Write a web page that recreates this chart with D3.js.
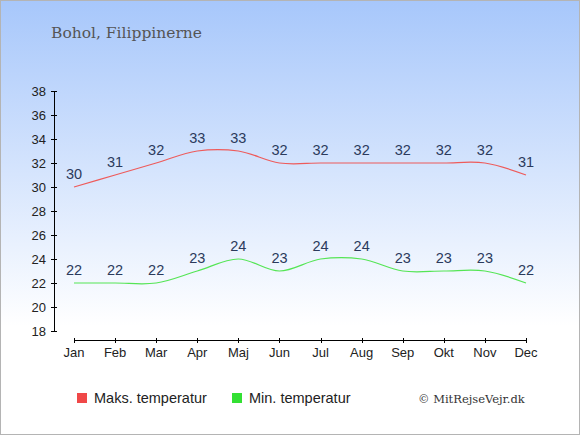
<!DOCTYPE html>
<html>
<head>
<meta charset="utf-8">
<script src="https://cdn.jsdelivr.net/npm/d3@7"></script>
<style>
  body { margin: 0; }
  svg { display: block; }
</style>
</head>
<body>
<div id="chart"></div>
<script>
var months = ["Jan", "Feb", "Mar", "Apr", "Maj", "Jun", "Jul", "Aug", "Sep", "Okt", "Nov", "Dec"];
var maxTemp = [30, 31, 32, 33, 33, 32, 32, 32, 32, 32, 32, 31];
var minTemp = [22, 22, 22, 23, 24, 23, 24, 24, 23, 23, 23, 22];
var yTicks = [18, 20, 22, 24, 26, 28, 30, 32, 34, 36, 38];

var width = 580, height = 435;

var svg = d3.select("#chart").append("svg")
    .attr("width", width)
    .attr("height", height);

var grad = svg.append("defs").append("linearGradient")
    .attr("id", "bg")
    .attr("x1", 0).attr("y1", 0).attr("x2", 0).attr("y2", 1);
grad.append("stop").attr("offset", "0%").attr("stop-color", "#a7c7fb");
grad.append("stop").attr("offset", "75%").attr("stop-color", "#ffffff");
grad.append("stop").attr("offset", "100%").attr("stop-color", "#ffffff");

svg.append("rect")
    .attr("x", 0.5).attr("y", 0.5)
    .attr("width", width - 1).attr("height", height - 1)
    .attr("fill", "url(#bg)")
    .attr("stroke", "#b4b4b4");

svg.append("text")
    .attr("x", 51).attr("y", 38)
    .attr("font-family", "'DejaVu Serif', serif")
    .attr("font-size", 15.5)
    .attr("fill", "#555")
    .text("Bohol, Filippinerne");

var x = d3.scalePoint().domain(months).range([74, 526]);
var y = d3.scaleLinear().domain([18, 38]).range([331, 91]);

// y axis
var yAxis = svg.append("g").attr("font-family", "'Liberation Sans', Arial, sans-serif");
yAxis.append("line")
    .attr("x1", 54.5).attr("x2", 54.5)
    .attr("y1", y(38)).attr("y2", y(18))
    .attr("stroke", "#000");
yAxis.selectAll(".tk").data(yTicks).enter().append("line")
    .attr("x1", 51).attr("x2", 57)
    .attr("y1", function (d) { return Math.round(y(d)) + 0.5; })
    .attr("y2", function (d) { return Math.round(y(d)) + 0.5; })
    .attr("stroke", "#000");
yAxis.selectAll("text").data(yTicks).enter().append("text")
    .attr("x", 46)
    .attr("y", function (d) { return y(d) + 5; })
    .attr("text-anchor", "end")
    .attr("font-size", 13)
    .attr("fill", "#222")
    .text(function (d) { return d; });

// x axis
var xAxis = svg.append("g").attr("font-family", "'Liberation Sans', Arial, sans-serif");
xAxis.append("line")
    .attr("x1", x("Jan")).attr("x2", x("Dec"))
    .attr("y1", 340.5).attr("y2", 340.5)
    .attr("stroke", "#000");
xAxis.selectAll(".tk").data(months).enter().append("line")
    .attr("x1", function (d) { return Math.round(x(d)) + 0.5; })
    .attr("x2", function (d) { return Math.round(x(d)) + 0.5; })
    .attr("y1", 338).attr("y2", 343)
    .attr("stroke", "#000");
xAxis.selectAll("text").data(months).enter().append("text")
    .attr("x", function (d) { return x(d); })
    .attr("y", 357)
    .attr("text-anchor", "middle")
    .attr("font-size", 13)
    .attr("fill", "#222")
    .text(function (d) { return d; });

var line = d3.line()
    .x(function (d, i) { return x(months[i]); })
    .y(function (d) { return y(d); })
    .curve(d3.curveCatmullRom.alpha(0.5));

function series(values, color) {
    svg.append("path")
        .datum(values)
        .attr("d", line)
        .attr("fill", "none")
        .attr("stroke", color)
        .attr("stroke-width", 1.2);
    svg.append("g").selectAll("text").data(values).enter().append("text")
        .attr("x", function (d, i) { return x(months[i]); })
        .attr("y", function (d) { return y(d) - 8; })
        .attr("text-anchor", "middle")
        .attr("font-family", "'Liberation Sans', Arial, sans-serif")
        .attr("font-size", 14.5)
        .attr("fill", "#2b3a5c")
        .text(function (d) { return d; });
}
series(maxTemp, "#ee5b5b");
series(minTemp, "#55e555");

// legend
var legend = svg.append("g").attr("font-family", "'Liberation Sans', Arial, sans-serif");
legend.append("rect").attr("x", 77).attr("y", 393).attr("width", 10).attr("height", 10).attr("fill", "#f04848");
legend.append("text").attr("x", 94).attr("y", 403).attr("font-size", 14.5).attr("fill", "#222").text("Maks. temperatur");
legend.append("rect").attr("x", 232).attr("y", 393).attr("width", 10).attr("height", 10).attr("fill", "#33e033");
legend.append("text").attr("x", 249).attr("y", 403).attr("font-size", 14.5).attr("fill", "#222").text("Min. temperatur");

svg.append("text")
    .attr("x", 418).attr("y", 403)
    .attr("font-family", "'DejaVu Serif', serif")
    .attr("font-size", 11.5)
    .attr("fill", "#333")
    .text("© MitRejseVejr.dk");
</script>
</body>
</html>
